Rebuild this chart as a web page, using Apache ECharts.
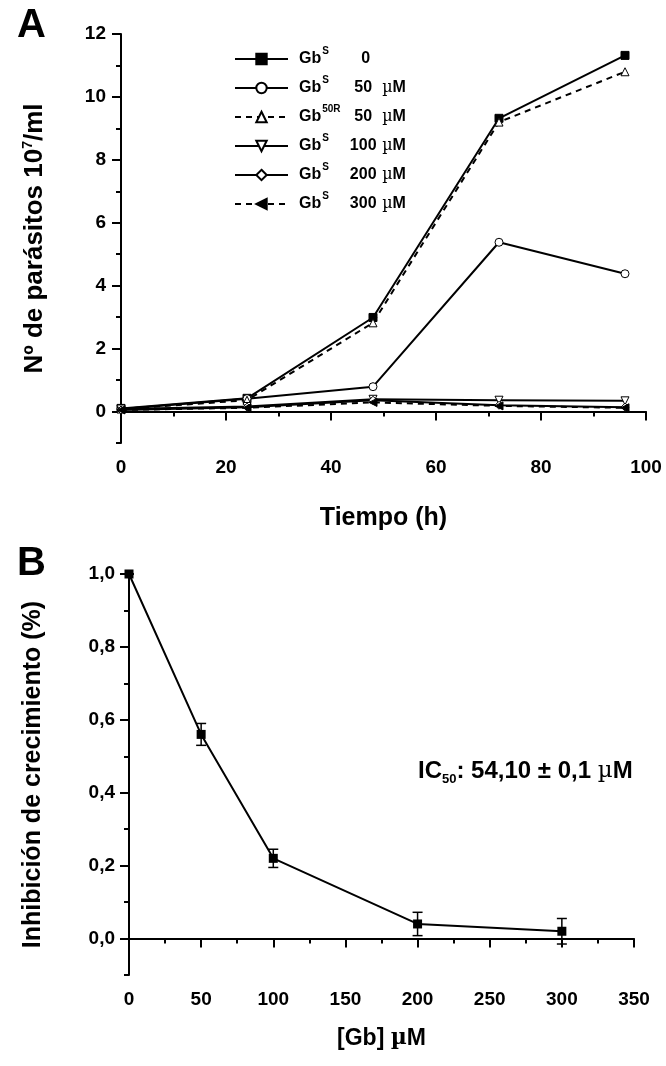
<!DOCTYPE html>
<html>
<head>
<meta charset="utf-8">
<script src="https://cdn.jsdelivr.net/npm/echarts@6/dist/echarts.min.js"></script>
<style>
html,body{margin:0;padding:0;background:#fff;}
#c{width:666px;height:1066px;}
</style>
</head>
<body>
<div id="c"></div>
<script>
// ---- Panel A data ----
var timeH = [0, 24, 48, 72, 96];
var gbS0 = [0.10, 0.42, 2.99, 9.32, 11.32];
var gbS50 = [0.08, 0.41, 0.79, 5.38, 4.38];
var gb50R50 = [0.08, 0.36, 2.82, 9.20, 10.80];
var gbS100 = [0.08, 0.16, 0.39, 0.36, 0.34];
var gbS200 = [0.05, 0.14, 0.36, 0.20, 0.14];
var gbS300 = [0.05, 0.12, 0.29, 0.18, 0.12];
var aYMajor = [0, 2, 4, 6, 8, 10, 12];
var aYMinor = [-1, 1, 3, 5, 7, 9, 11];
// ---- Panel B data ----
var gbConc = [0, 50, 100, 200, 300];
var inhib = [1.0, 0.56, 0.22, 0.04, 0.02];
var inhibErr = [0.0, 0.03, 0.025, 0.032, 0.035];
var bYMajor = [0, 0.2, 0.4, 0.6, 0.8, 1.0];
var bYMinor = [-0.1, 0.1, 0.3, 0.5, 0.7, 0.9];

var FF = "'Liberation Sans',Arial,sans-serif";
var MU = "'DejaVu Serif','Liberation Serif',serif";
function pairs(xs, ys){ return xs.map(function(x,i){return [x, ys[i]];}); }

var chart = echarts.init(document.getElementById('c'), null, {renderer:'canvas'});

var lblStyle = {fontFamily:FF, fontWeight:'bold', fontSize:19, color:'#000'};
var axLine = {show:true, lineStyle:{color:'#000', width:2}};
var tickMaj = {width:2, color:'#000'};

var downTri = 'path://M0,0 L10,0 L5,9 Z';
var leftTri = 'path://M9,0 L9,10 L0,5 Z';

var legendMeta = {
  's0':   {sup:'S',   n:'0',   u:false},
  's50':  {sup:'S',   n:'50',  u:true},
  'r50':  {sup:'50R', n:'50',  u:true},
  's100': {sup:'S',   n:'100', u:true},
  's200': {sup:'S',   n:'200', u:true},
  's300': {sup:'S',   n:'300', u:true}
};

function lineSeries(name, data, symbol, filled, dashed){
  return {
    name:name, type:'line', xAxisIndex:0, yAxisIndex:0,
    data:pairs(timeH, data), symbol:symbol, symbolSize:8, showSymbol:true,
    lineStyle:{color:'#000', width:2, type: dashed ? [6,5] : 'solid'},
    itemStyle:{color: filled ? '#000' : '#fff', borderColor:'#000', borderWidth:1},
    emphasis:{disabled:true}, z: 3
  };
}

var LH = 26;
var option = {
  animation:false,
  backgroundColor:'#fff',
  grid:[
    {left:121, top:34, width:525, height:409},
    {left:129, top:574, width:505, height:401}
  ],
  legend:{
    data:['s0','s50','r50','s100','s200','s300'],
    orient:'vertical', left:229, top:41, itemWidth:53, itemHeight:13, itemGap:3,
    selectedMode:false,
    formatter:function(n){
      var m = legendMeta[n];
      var s = '{g0|Gb}{p|'+m.sup+'}';
      if (m.u) s += '{n|'+m.n+'}{sp| }{mu|µ}{g|M}';
      else s += '{n0|'+m.n+'}';
      return s;
    },
    textStyle:{
      fontFamily:FF, fontWeight:'bold', fontSize:16, color:'#000',
      rich:{
        g0:{fontFamily:FF, fontWeight:'bold', fontSize:16, color:'#000', lineHeight:LH, padding:[0,0,0,6]},
        g:{fontFamily:FF, fontWeight:'bold', fontSize:16, color:'#000', lineHeight:LH},
        p:{fontFamily:FF, fontWeight:'bold', fontSize:10, color:'#000', width:26, lineHeight:10, padding:[0,0,16,1]},
        n:{fontFamily:FF, fontWeight:'bold', fontSize:16, color:'#000', width:30, align:'right', lineHeight:LH},
        n0:{fontFamily:FF, fontWeight:'bold', fontSize:16, color:'#000', width:22, align:'right', lineHeight:LH},
        sp:{fontSize:16, width:4, lineHeight:LH},
        mu:{fontFamily:MU, fontWeight:'normal', fontSize:16, color:'#000', lineHeight:LH}
      }
    }
  },
  xAxis:[
    {gridIndex:0, type:'value', min:0, max:100, interval:20,
     axisLine:axLine, splitLine:{show:false},
     axisTick:{show:true, length:9, lineStyle:tickMaj},
     minorTick:{show:true, splitNumber:2, length:5, lineStyle:tickMaj},
     axisLabel:Object.assign({margin:15}, lblStyle),
     name:'Tiempo (h)', nameLocation:'middle', nameGap:63,
     nameTextStyle:{fontFamily:FF, fontWeight:'bold', fontSize:25, color:'#000'}},
    {gridIndex:1, type:'value', min:0, max:350, interval:50,
     axisLine:axLine, splitLine:{show:false},
     axisTick:{show:true, length:9, lineStyle:tickMaj},
     minorTick:{show:true, splitNumber:2, length:5, lineStyle:tickMaj},
     axisLabel:Object.assign({margin:15}, lblStyle),
     name:'{g|[Gb] }{mu|µ}{g|M}', nameLocation:'middle', nameGap:52,
     nameTextStyle:{fontFamily:FF, fontWeight:'bold', fontSize:23, color:'#000',
       rich:{g:{fontFamily:FF, fontWeight:'bold', fontSize:23, color:'#000'},
             mu:{fontFamily:MU, fontSize:22, color:'#000'}}}}
  ],
  yAxis:[
    {gridIndex:0, type:'value', min:-1, max:12, position:'left',
     axisLine:axLine, splitLine:{show:false},
     axisTick:{show:true, length:9, customValues:aYMajor, lineStyle:tickMaj},
     axisLabel:Object.assign({margin:15, customValues:aYMajor}, lblStyle),
     name:'Nº de parásitos 10{s|7}/ml', nameLocation:'middle', nameRotate:90, nameGap:72,
     nameTextStyle:{fontFamily:FF, fontWeight:'bold', fontSize:26, color:'#000',
       rich:{s:{fontFamily:FF, fontWeight:'bold', fontSize:14, color:'#000', padding:[0,0,14,0]}}}},
    {gridIndex:0, type:'value', min:-1, max:12, position:'left', axisLine:{show:false},
     splitLine:{show:false}, axisLabel:{show:false},
     axisTick:{show:true, length:5, customValues:aYMinor, lineStyle:tickMaj}},
    {gridIndex:1, type:'value', min:-0.1, max:1.0, position:'left',
     axisLine:axLine, splitLine:{show:false},
     axisTick:{show:true, length:9, customValues:bYMajor, lineStyle:tickMaj},
     axisLabel:Object.assign({margin:14, customValues:bYMajor,
        formatter:function(v){return v.toFixed(1).replace('.', ',');}}, lblStyle),
     name:'Inhibición de crecimiento (%)', nameLocation:'middle', nameRotate:90, nameGap:83,
     nameTextStyle:{fontFamily:FF, fontWeight:'bold', fontSize:25, color:'#000'}},
    {gridIndex:1, type:'value', min:-0.1, max:1.0, position:'left', axisLine:{show:false},
     splitLine:{show:false}, axisLabel:{show:false},
     axisTick:{show:true, length:5, customValues:bYMinor, lineStyle:tickMaj}}
  ],
  series:[
    lineSeries('s0', gbS0, 'rect', true, false),
    lineSeries('s50', gbS50, 'circle', false, false),
    lineSeries('r50', gb50R50, 'triangle', false, true),
    lineSeries('s100', gbS100, downTri, false, false),
    lineSeries('s200', gbS200, 'diamond', false, false),
    lineSeries('s300', gbS300, leftTri, true, true),
    {
      type:'line', xAxisIndex:1, yAxisIndex:2,
      data:pairs(gbConc, inhib), symbol:'rect', symbolSize:9,
      lineStyle:{color:'#000', width:2}, itemStyle:{color:'#000'}, z:3
    },
    {
      type:'custom', xAxisIndex:1, yAxisIndex:2, z:4,
      data:gbConc.map(function(x,i){return [x, inhib[i]-inhibErr[i], inhib[i]+inhibErr[i]];}),
      renderItem:function(params, api){
        var lo = api.coord([api.value(0), api.value(1)]);
        var hi = api.coord([api.value(0), api.value(2)]);
        var w = 5;
        var st = {stroke:'#000', lineWidth:1.5};
        return {type:'group', children:[
          {type:'line', shape:{x1:lo[0], y1:lo[1], x2:hi[0], y2:hi[1]}, style:st},
          {type:'line', shape:{x1:lo[0]-w, y1:lo[1], x2:lo[0]+w, y2:lo[1]}, style:st},
          {type:'line', shape:{x1:hi[0]-w, y1:hi[1], x2:hi[0]+w, y2:hi[1]}, style:st}
        ]};
      }
    }
  ],
  graphic:[
    {type:'text', left:17, top:6, style:{text:'A', fontFamily:FF, fontWeight:'bold', fontSize:40, fill:'#000'}},
    {type:'text', left:17, top:544, style:{text:'B', fontFamily:FF, fontWeight:'bold', fontSize:40, fill:'#000'}},
    {type:'text', left:418, top:759, style:{
      text:'{g|IC}{s|50}{g|: 54,10 ± 0,1 }{mu|µ}{g|M}',
      rich:{
        g:{fontFamily:FF, fontWeight:'bold', fontSize:24, color:'#000'},
        s:{fontFamily:FF, fontWeight:'bold', fontSize:13, color:'#000', padding:[16,0,0,0]},
        mu:{fontFamily:MU, fontSize:23, color:'#000'}
      }}}
  ]
};
chart.setOption(option);
</script>
</body>
</html>
